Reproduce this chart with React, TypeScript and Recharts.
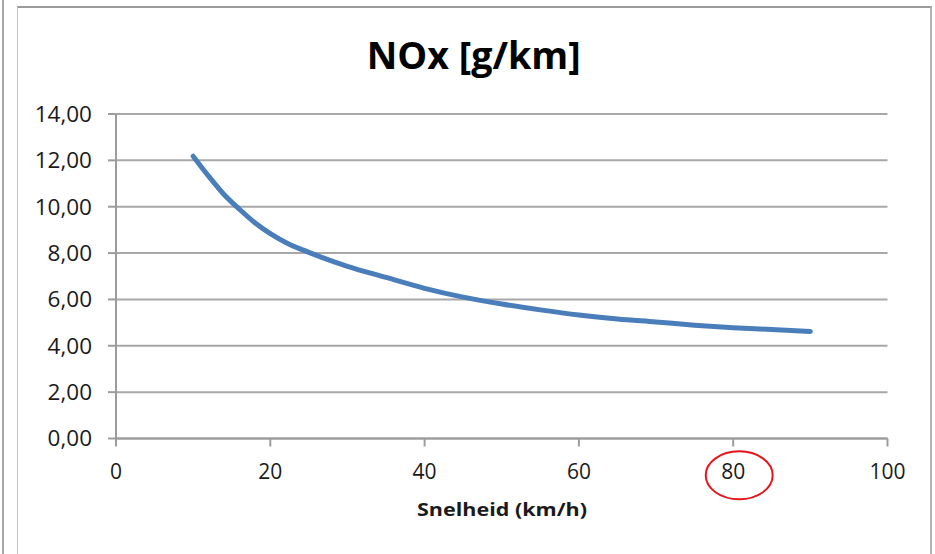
import React from "react";
import { LineChart, Line, XAxis, YAxis, CartesianGrid } from "recharts";

const speeds = [10, 12, 14, 16, 18, 20, 22, 25, 30, 35, 40, 45, 50, 55, 60, 65, 70, 75, 80, 85, 90];
const noxValues = [12.18, 11.32, 10.53, 9.89, 9.31, 8.84, 8.46, 8.03, 7.43, 6.95, 6.48, 6.1, 5.8, 5.55, 5.33, 5.16, 5.03, 4.89, 4.78, 4.7, 4.62];
const xTicks = [0, 20, 40, 60, 80, 100];
const yTicks = [0, 2, 4, 6, 8, 10, 12, 14];

const data = speeds.map((s, i) => ({ speed: s, nox: noxValues[i] }));

const axisColor = "#9c9c9c";
const gridColor = "#a8a8a8";
const font = "'Open Sans', 'DejaVu Sans', sans-serif";

export default function App() {
  return (
    <div style={{ position: "absolute", left: 0, top: 0, width: 935, height: 554, background: "#fff", overflow: "hidden" }}>
      <div style={{ position: "absolute", left: 2, top: 0, width: 1.5, height: 554, background: "#a8a8a8" }} />
      <div
        style={{
          position: "absolute",
          left: 17,
          top: 5.5,
          width: 912,
          height: 600,
          borderTop: "2px solid #9a9a9a",
          borderLeft: "1.5px solid #c4c4c4",
          borderRight: "2px solid #b4b4b4",
        }}
      />
      <div style={{ position: "absolute", left: 0, top: 0 }}>
        <LineChart width={935} height={554} data={data} margin={{ top: 114, right: 47.5, bottom: 0, left: 0 }}>
          <CartesianGrid horizontal={true} vertical={false} stroke={gridColor} strokeWidth={2} />
          <XAxis
            type="number"
            dataKey="speed"
            domain={[0, 100]}
            ticks={xTicks}
            height={115.5}
            tickSize={8}
            tickMargin={18}
            stroke={axisColor}
            strokeWidth={2}
            tick={{ fill: "#1a1a1a", fontSize: 21, fontFamily: font }}
            interval={0}
          />
          <YAxis
            type="number"
            domain={[0, 14]}
            ticks={yTicks}
            width={116}
            tickSize={8}
            tickMargin={16}
            stroke={axisColor}
            strokeWidth={2}
            tick={{ fill: "#1a1a1a", fontSize: 22.5, fontFamily: font }}
            tickFormatter={(v: number) => v.toFixed(2).replace(".", ",")}
            interval={0}
          />
          <Line
            type="monotone"
            dataKey="nox"
            stroke="#4a7ebb"
            strokeWidth={5}
            strokeLinecap="round"
            dot={false}
            isAnimationActive={false}
          />
        </LineChart>
      </div>
      <svg width={935} height={554} style={{ position: "absolute", left: 0, top: 0, pointerEvents: "none" }}>
        <text x={473.7} y={69.3} textAnchor="middle" fontFamily={font} fontWeight="bold" fontSize={37} fill="#000" textLength={214} lengthAdjust="spacingAndGlyphs">
          NOx [g/km]
        </text>
        <text x={502} y={515.5} textAnchor="middle" fontFamily={font} fontWeight="bold" fontSize={17} fill="#1a1a1a" textLength={170} lengthAdjust="spacingAndGlyphs">
          Snelheid (km/h)
        </text>
        <ellipse cx={739.2} cy={475.3} rx={33.5} ry={24} fill="none" stroke="#e5161c" strokeWidth={2} />
      </svg>
    </div>
  );
}
